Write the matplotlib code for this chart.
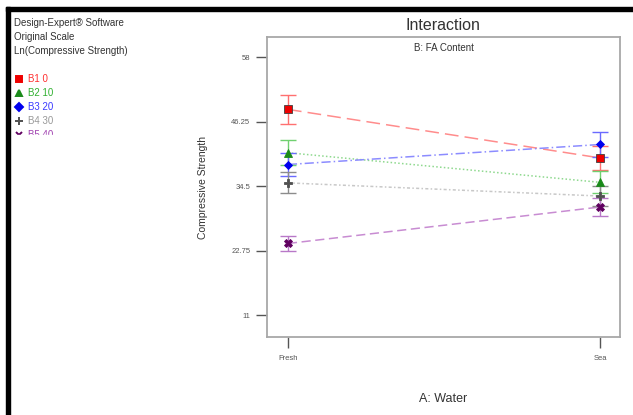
import matplotlib
matplotlib.use("Agg")
import matplotlib.pyplot as plt
from matplotlib.patches import Rectangle

plt.rcParams['font.family'] = ['Liberation Sans', 'DejaVu Sans']

# data
water = ["Fresh", "Sea"]
groups = ["B1 0", "B2 10", "B3 20", "B4 30", "B5 40"]
means = [
    [48.5, 39.65],
    [40.6, 35.2],
    [38.45, 42.1],
    [35.1, 32.7],
    [24.05, 30.7],
]
lower = [
    [45.8, 37.4],
    [38.3, 33.2],
    [36.4, 39.8],
    [33.2, 30.9],
    [22.75, 29.0],
]
upper = [
    [51.2, 41.9],
    [43.0, 37.3],
    [40.6, 44.4],
    [37.0, 34.5],
    [25.4, 32.4],
]
yticks = [11, 22.75, 34.5, 46.25, 58]

line_cols = ["#ff8c8c", "#8fd98f", "#8c8cff", "#c8c8c8", "#c88cd2"]
bar_cols = ["#ff7070", "#70d070", "#6a6aff", "#8c8c8c", "#b878c8"]
mk_cols = ["#ee0000", "#1a8a1a", "#0000ee", "#505050", "#600060"]
txt_cols = ["#ff3030", "#30b030", "#3a3aff", "#999999", "#a040b0"]
markers = ["s", "^", "D", "P", "X"]
msizes = [5.2, 5.5, 4.2, 5.5, 5.2]
leg_markers = ["s", "^", "D", "+", "x"]
leg_sizes = [4.2, 4.2, 4.2, 5.2, 4.6]
styles = [(0, (9, 4)), (0, (1, 1.5)), (0, (6, 2, 1, 2)), (0, (2, 1.5, 1, 1.5)), (0, (6, 3))]

fig = plt.figure(figsize=(6.33, 4.15), dpi=100)
ax = fig.add_axes([267 / 633, 1 - 337 / 415, 353 / 633, 300 / 415])

x = [0, 1]
for i, g in enumerate(groups):
    ax.plot(x, means[i], color=line_cols[i], lw=1.1, ls=styles[i], zorder=2)
    err = [[m - lo for m, lo in zip(means[i], lower[i])],
           [hi - m for m, hi in zip(means[i], upper[i])]]
    ax.errorbar(x, means[i], yerr=err, fmt="none", ecolor=bar_cols[i],
                elinewidth=1.0, capsize=6, capthick=1.0, zorder=3)
    ax.plot(x, means[i], ls="none", marker=markers[i], ms=msizes[i],
            mfc=mk_cols[i], mec="#404040" if i == 0 else mk_cols[i],
            mew=0.6, zorder=4)

ax.set_xlim(-0.067, 1.064)
ax.set_ylim(7.0, 61.7)
ax.set_xticks(x)
ax.set_xticklabels(water)
ax.set_yticks(yticks)
ax.set_yticklabels(["11", "22.75", "34.5", "46.25", "58"])
ax.tick_params(axis="both", labelsize=5.5, colors="#555555", length=8, width=1.0)
ax.tick_params(axis="x", pad=5)
ax.tick_params(axis="y", pad=4)
for s in ax.spines.values():
    s.set_color("#a8a8a8")
    s.set_linewidth(1.3)

ax.set_xlabel("A: Water", fontsize=9, color="#333333", labelpad=22)
ax.set_ylabel("Compressive Strength", fontsize=7.5, color="#333333", labelpad=17)
ax.text(0.5, 0.965, "B: FA Content", transform=ax.transAxes, ha="center",
        va="center", fontsize=7, color="#333333")
fig.text(443 / 633, 1 - 26 / 415, "Interaction", ha="center", va="center",
         fontsize=11.5, color="#333333")

# left info text
info = ["Design-Expert\u00ae Software", "Original Scale", "Ln(Compressive Strength)"]
for k, t in enumerate(info):
    fig.text(14 / 633, 1 - (23 + 14 * k) / 415, t, ha="left", va="center",
             fontsize=7, color="#333333")

# legend entries
for i, g in enumerate(groups):
    yy = 1 - (79 + 14 * i) / 415
    fig.lines.append(plt.Line2D([19 / 633], [yy], marker=leg_markers[i], ms=leg_sizes[i],
                                mfc=mk_cols[i], mec=mk_cols[i], mew=1.4, ls="none",
                                transform=fig.transFigure))
    fig.text(28 / 633, yy, g, ha="left", va="center", fontsize=7, color=txt_cols[i])

# cover the lower part of the last legend entry, as in the cut-off reference
fig.patches.append(Rectangle((12 / 633, 0.30), 80 / 633, 1 - 135 / 415 - 0.30,
                             transform=fig.transFigure, color="white", zorder=10))

# black frame lines at top and left
fig.patches.append(Rectangle((6 / 633, 1 - 11 / 415), 1, 4 / 415,
                             transform=fig.transFigure, color="black", zorder=11))
fig.patches.append(Rectangle((6 / 633, 0), 4 / 633, 1 - 7 / 415,
                             transform=fig.transFigure, color="black", zorder=11))

fig.savefig("out.png", dpi=100)
